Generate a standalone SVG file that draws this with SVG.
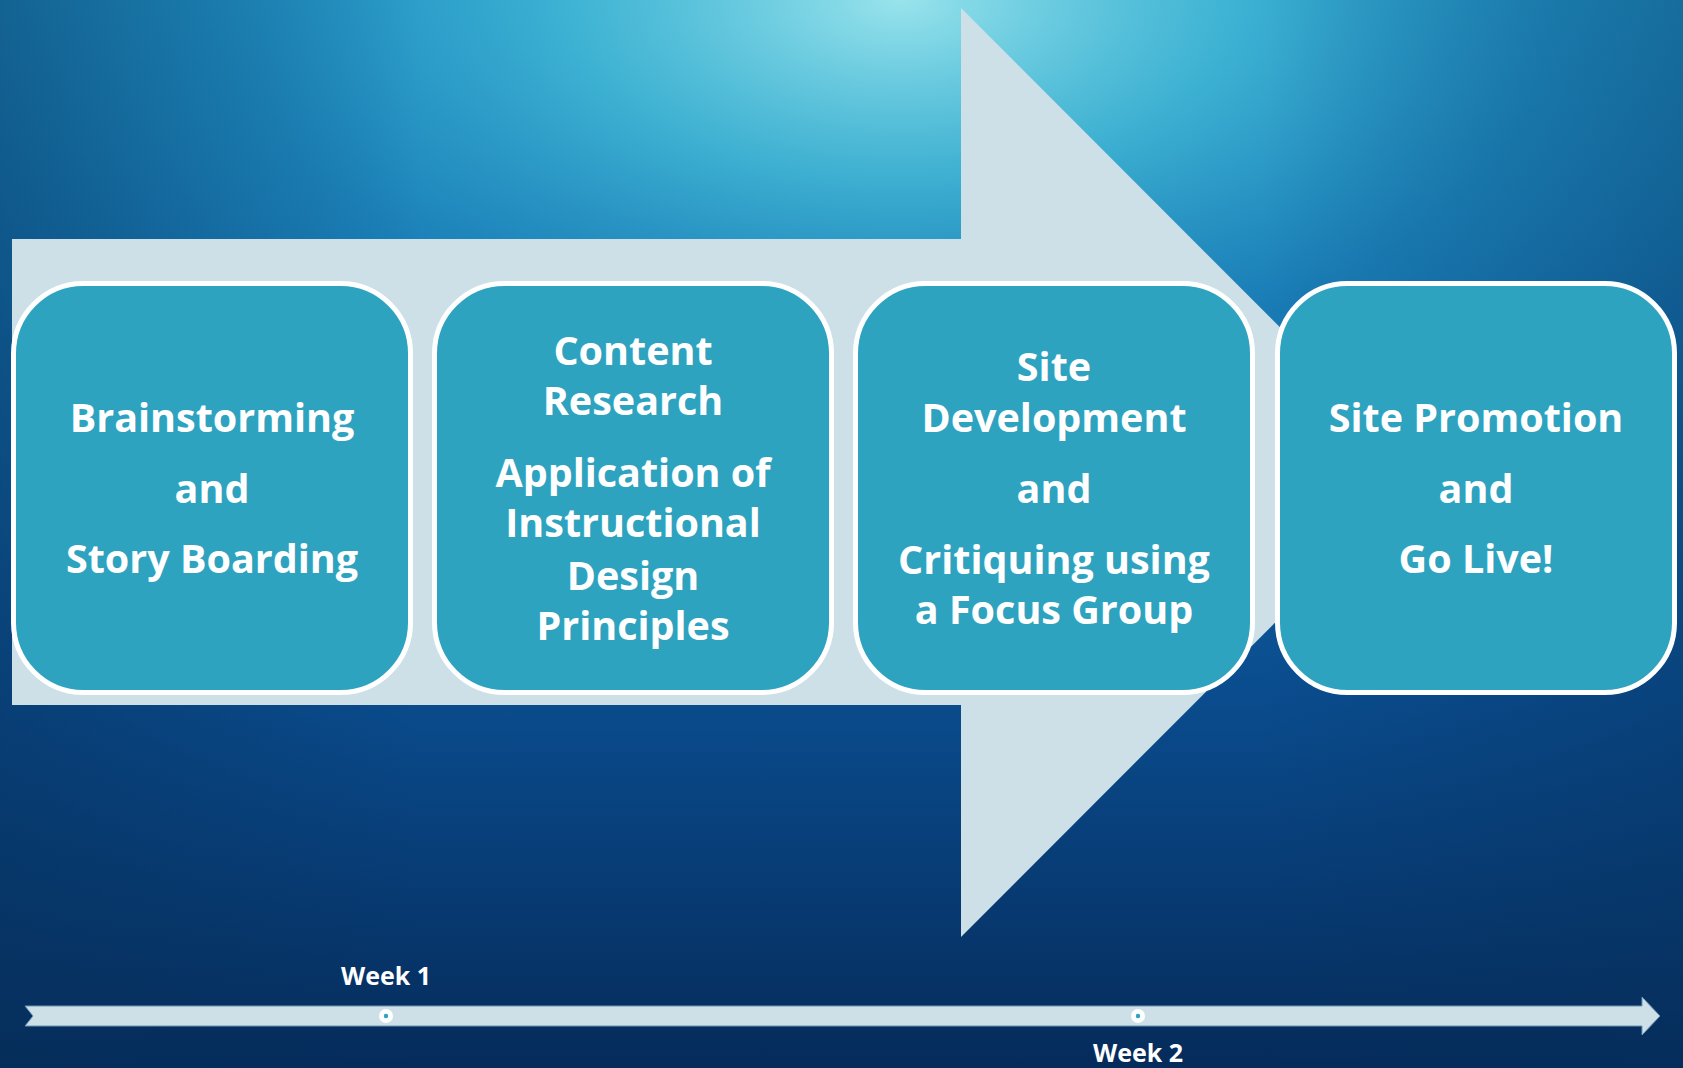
<svg xmlns="http://www.w3.org/2000/svg" width="1683" height="1068" viewBox="0 0 1683 1068">
<defs>
<linearGradient id="bg" x1="0" y1="0" x2="0" y2="1">
<stop offset="0" stop-color="#1d8cc0"/>
<stop offset="0.3" stop-color="#1470ad"/>
<stop offset="0.65" stop-color="#0a4c8e"/>
<stop offset="1" stop-color="#052b5a"/>
</linearGradient>
<radialGradient id="glow" cx="900" cy="0" r="950" gradientUnits="userSpaceOnUse" gradientTransform="translate(900 0) scale(1 0.55) translate(-900 0)">
<stop offset="0" stop-color="#9fe8ee" stop-opacity="0.95"/>
<stop offset="0.35" stop-color="#4cc4dc" stop-opacity="0.7"/>
<stop offset="0.7" stop-color="#2a9ccc" stop-opacity="0.25"/>
<stop offset="1" stop-color="#2a9ccc" stop-opacity="0"/>
</radialGradient>
<linearGradient id="side" x1="0" y1="0" x2="1" y2="0">
<stop offset="0" stop-color="#06305a" stop-opacity="0.45"/>
<stop offset="0.25" stop-color="#06305a" stop-opacity="0"/>
<stop offset="0.75" stop-color="#06305a" stop-opacity="0"/>
<stop offset="1" stop-color="#06305a" stop-opacity="0.35"/>
</linearGradient>
</defs>
<style>
.box{fill:#2ea3bf;stroke:#ffffff;stroke-width:5}
.t{font-family:"Open Sans","Noto Sans","Liberation Sans",sans-serif;font-weight:bold;font-size:39.5px;fill:#ffffff;text-anchor:middle}
.wk{font-family:"Open Sans","Noto Sans","Liberation Sans",sans-serif;font-weight:bold;font-size:25px;fill:#ffffff;text-anchor:middle}
</style>
<g id="background">
<rect width="1683" height="1068" fill="url(#bg)"/>
<rect width="1683" height="1068" fill="url(#glow)"/>
<rect width="1683" height="1068" fill="url(#side)"/>
</g>
<g id="big-arrow">
<polygon points="12,239 961,239 961,8 1425,472.5 961,937 961,705 12,705" fill="#cde0e7"/>
</g>
<g id="node-1">
<rect class="box" x="13.5" y="283.5" width="397" height="409" rx="70"/>
<text class="t" x="212" y="432">Brainstorming</text>
<text class="t" x="212" y="503">and</text>
<text class="t" x="212" y="573">Story Boarding</text>
</g>
<g id="node-2">
<rect class="box" x="434.5" y="283.5" width="397" height="409" rx="70"/>
<text class="t" x="633" y="365">Content</text>
<text class="t" x="633" y="415">Research</text>
<text class="t" x="633" y="487">Application of</text>
<text class="t" x="633" y="537">Instructional</text>
<text class="t" x="633" y="590">Design</text>
<text class="t" x="633" y="640">Principles</text>
</g>
<g id="node-3">
<rect class="box" x="855.5" y="283.5" width="397" height="409" rx="70"/>
<text class="t" x="1054" y="381">Site</text>
<text class="t" x="1054" y="432">Development</text>
<text class="t" x="1054" y="503">and</text>
<text class="t" x="1054" y="574">Critiquing using</text>
<text class="t" x="1054" y="624">a Focus Group</text>
</g>
<g id="node-4">
<rect class="box" x="1277.5" y="283.5" width="397" height="409" rx="70"/>
<text class="t" x="1476" y="432">Site Promotion</text>
<text class="t" x="1476" y="503">and</text>
<text class="t" x="1476" y="573">Go Live!</text>
</g>
<g id="connectors">
<polygon points="25,1006 1642,1006 1642,997 1660,1016 1642,1035 1642,1026 25,1026 33,1016" fill="#cde0e7" stroke="#6f93b3" stroke-width="1"/>
</g>
<g id="week-1">
<circle cx="386" cy="1016" r="7" fill="#ffffff"/>
<circle cx="386" cy="1016" r="2.2" fill="#2ea3bf"/>
<text class="wk" x="386" y="985">Week 1</text>
</g>
<g id="week-2">
<circle cx="1138" cy="1016" r="7" fill="#ffffff"/>
<circle cx="1138" cy="1016" r="2.2" fill="#2ea3bf"/>
<text class="wk" x="1138" y="1062">Week 2</text>
</g>
</svg>
